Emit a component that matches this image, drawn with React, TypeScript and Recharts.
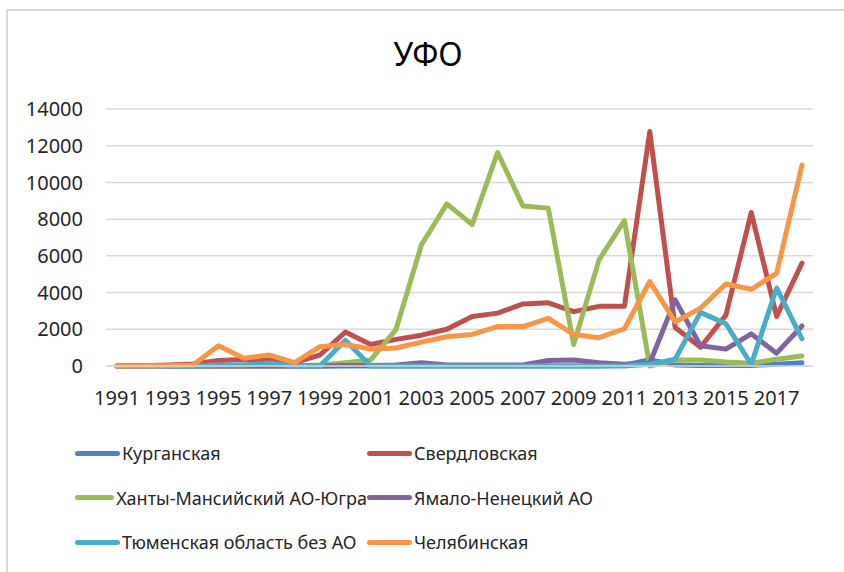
import React from "react";
import { CartesianGrid, Legend, Line, LineChart, XAxis, YAxis } from "recharts";

const years = [
  "1991", "1992", "1993", "1994", "1995", "1996", "1997", "1998", "1999", "2000",
  "2001", "2002", "2003", "2004", "2005", "2006", "2007", "2008", "2009", "2010",
  "2011", "2012", "2013", "2014", "2015", "2016", "2017", "2018",
];

const kurgan = [0, 0, 0, 0, 0, 0, 0, 0, 0, 0, 0, 0, 0, 0, 0, 0, 0, 0, 0, 0, 50, 350, 50, 30, 30, 30, 100, 180];
const sverdlovsk = [0, 20, 60, 110, 300, 360, 330, 180, 600, 1850, 1170, 1450, 1680, 2000, 2700, 2880, 3380, 3440, 2960, 3250, 3250, 12770, 2100, 1020, 2770, 8360, 2700, 5600];
const khanty = [0, 0, 0, 0, 0, 0, 0, 0, 50, 180, 330, 2000, 6600, 8830, 7700, 11630, 8720, 8600, 1170, 5780, 7920, 0, 330, 330, 220, 150, 370, 550];
const yamal = [0, 0, 0, 0, 0, 0, 0, 0, 0, 30, 30, 50, 180, 50, 50, 50, 50, 300, 330, 180, 100, 150, 3600, 1100, 920, 1750, 700, 2180];
const tyumen = [0, 0, 0, 0, 50, 50, 150, 0, 0, 1400, 0, 0, 0, 0, 0, 0, 0, 0, 0, 0, 0, 90, 370, 2920, 2300, 90, 4250, 1480];
const chelyabinsk = [0, 0, 20, 50, 1100, 420, 600, 180, 1050, 1170, 930, 980, 1300, 1590, 1720, 2150, 2150, 2600, 1720, 1540, 2030, 4600, 2400, 3150, 4470, 4180, 5050, 10950];

const yTicks = [0, 2000, 4000, 6000, 8000, 10000, 12000, 14000];

const series = [
  { key: "Курганская", values: kurgan, color: "#4F81BD" },
  { key: "Свердловская", values: sverdlovsk, color: "#C0504D" },
  { key: "Ханты-Мансийский АО-Югра", values: khanty, color: "#9BBB59" },
  { key: "Ямало-Ненецкий АО", values: yamal, color: "#8064A2" },
  { key: "Тюменская область без АО", values: tyumen, color: "#4BACC6" },
  { key: "Челябинская", values: chelyabinsk, color: "#F79646" },
];

const data = years.map((year, i) => {
  const row: Record<string, string | number> = { year };
  series.forEach((s) => (row[s.key] = s.values[i]));
  return row;
});

const font = "'Noto Sans', 'Open Sans', sans-serif";
const textColor = "#262626";

// keep the legend in series order (recharts sorts it by name otherwise)
function renderLegend(props: any) {
  const items = [...(props.payload || [])].sort(
    (a: any, b: any) =>
      series.findIndex((s) => s.key === a.value) - series.findIndex((s) => s.key === b.value)
  );
  return (
    <div style={{ display: "grid", gridTemplateColumns: "292px 292px", fontFamily: font, fontSize: 18, color: textColor }}>
      {items.map((item: any) => (
        <div key={item.value} style={{ display: "flex", alignItems: "center", height: 44.5, whiteSpace: "nowrap" }}>
          <span style={{ display: "inline-block", width: 45, height: 5, borderRadius: 3, background: item.color, marginRight: 2 }} />
          <span>{item.value}</span>
        </div>
      ))}
    </div>
  );
}

export default function App() {
  return (
    <div style={{ position: "absolute", left: 0, top: 0, width: 844, height: 572, overflow: "hidden", background: "#fff" }}>
      <div style={{ position: "absolute", left: 6, top: 9, width: 900, height: 700, borderTop: "2px solid #D9D9D9", borderLeft: "2px solid #D9D9D9" }} />
      <svg style={{ position: "absolute", left: 0, top: 0 }} width={844} height={100}>
        <text x={428} y={66} textAnchor="middle" fontFamily={font} fontSize={32} fill="#000">
          УФО
        </text>
      </svg>
      <LineChart width={844} height={572} data={data} margin={{ top: 109, right: 31, bottom: 166, left: 0 }}>
        <CartesianGrid vertical={false} stroke="#D9D9D9" strokeWidth={1.5} />
        <XAxis
          dataKey="year"
          interval={1}
          padding={{ left: 11, right: 11 }}
          height={40}
          tickLine={false}
          tickSize={23}
          tickMargin={2}
          axisLine={{ stroke: "#D9D9D9", strokeWidth: 1.5 }}
          tick={{ fontFamily: font, fontSize: 20, fill: textColor }}
        />
        <YAxis
          width={106}
          domain={[0, 14000]}
          ticks={yTicks}
          interval={0}
          axisLine={false}
          tickLine={false}
          tickSize={0}
          tickMargin={23}
          tick={{ fontFamily: font, fontSize: 20, fill: textColor }}
        />
        <Legend
          layout="vertical"
          align="center"
          verticalAlign="middle"
          content={renderLegend}
          wrapperStyle={{ left: 75, top: 431, width: 600 }}
        />
        {series.map((s) => (
          <Line
            key={s.key}
            type="linear"
            dataKey={s.key}
            stroke={s.color}
            strokeWidth={5}
            dot={false}
            activeDot={false}
            strokeLinejoin="round"
            strokeLinecap="round"
            isAnimationActive={false}
          />
        ))}
      </LineChart>
    </div>
  );
}
